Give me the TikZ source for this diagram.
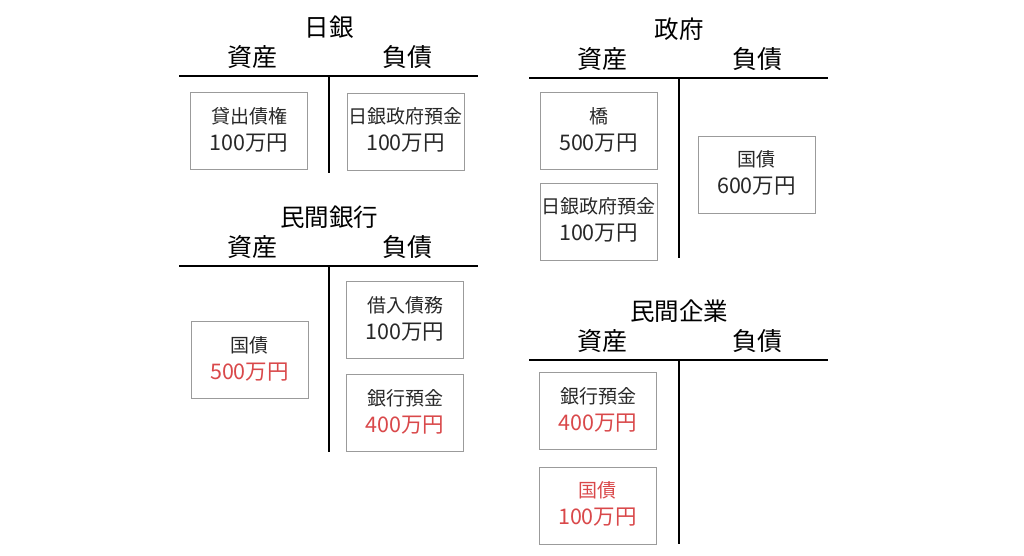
\documentclass[tikz,border=0pt]{standalone}
\usepackage{fontspec}
\setmainfont{Noto Sans CJK JP}
\usepackage{tikz}
\usetikzlibrary{positioning,calc}
\tikzset{>=latex}
\definecolor{boxgray}{RGB}{155,155,155}
\definecolor{redamt}{RGB}{217,72,74}
\definecolor{txt}{RGB}{40,40,40}

\tikzset{
  acctitle/.style={font=\fontsize{24.5}{24.5}\selectfont},
  acchead/.style={font=\fontsize{25}{25}\selectfont},
  itembox/.style={draw=boxgray, line width=0.9pt, minimum width=117pt, minimum height=77pt, inner sep=0pt},
  itemname/.style={font=\fontsize{19}{19}\selectfont},
  itemamt/.style={font=\fontsize{21.5}{21.5}\selectfont},
}
% box with two lines: name, amount
\newcommand{\acitem}[6]{%
  \node[itembox] (#1) at (#2,#3) {};
  \node[itemname,text=#6] (#1-n) at ($(#1.center)+(0,-15)$) {#4};
  \node[itemamt,text=#6] (#1-a) at ($(#1.center)+(0,12)$) {#5};
}

\begin{document}
\begin{tikzpicture}[x=1pt,y=-1pt]
  \useasboundingbox (0,0) rectangle (1024,555);

  % T-accounts
  \foreach \name/\cx/\cy/\len/\ttl in {boj/329/76/97/日銀, gov/679/78/180/政府, bank/329/266/186/民間銀行, firm/679/360/184/民間企業}
    {
      \coordinate (\name-l) at (\cx-150,\cy);
      \coordinate (\name-r) at (\cx+149,\cy);
      \coordinate (\name-t) at (\cx,\cy);
      \coordinate (\name-b) at (\cx,\cy+\len);
      \draw[line width=2.8pt] (\name-l) -- (\name-r);
      \draw[line width=2.8pt] (\name-t) -- (\name-b);
      \node[acctitle] (\name-title) at (\cx,\cy-49) {\ttl};
      \node[acchead] (\name-asset) at (\cx-77,\cy-19) {資産};
      \node[acchead] (\name-liab) at (\cx+78,\cy-19) {負債};
    }

  % 日銀
  \acitem{bojloan}{249}{131}{貸出債権}{100万円}{txt}
  \acitem{bojdep}{405.5}{131.5}{日銀政府預金}{100万円}{txt}

  % 政府
  \acitem{govbridge}{598.5}{131}{橋}{500万円}{txt}
  \acitem{govdep}{598.5}{221.5}{日銀政府預金}{100万円}{txt}
  \acitem{govbond}{756.5}{174.5}{国債}{600万円}{txt}

  % 民間銀行
  \acitem{bankbond}{249.5}{360}{国債}{\textcolor{redamt}{500万円}}{txt}
  \acitem{bankloan}{405}{320}{借入債務}{100万円}{txt}
  \acitem{bankdep}{405}{413}{銀行預金}{\textcolor{redamt}{400万円}}{txt}

  % 民間企業
  \acitem{firmdep}{598}{411}{銀行預金}{\textcolor{redamt}{400万円}}{txt}
  \acitem{firmbond}{597.5}{505.5}{国債}{100万円}{redamt}
\end{tikzpicture}
\end{document}
